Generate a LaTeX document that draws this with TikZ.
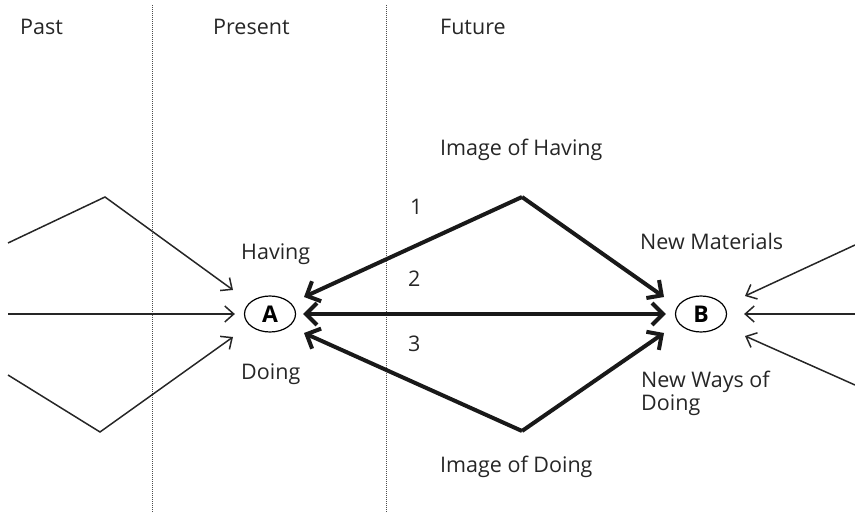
\documentclass[tikz,border=0pt]{standalone}
\usepackage{fontspec}
\setmainfont{Open Sans}
\usetikzlibrary{arrows.meta,shapes.geometric}
\begin{document}
\begin{tikzpicture}[x=1pt,y=-1pt,
  lbl/.style={anchor=base west,inner sep=0pt,font=\fontsize{21.5}{23}\selectfont,text=black!85},
  num/.style={anchor=base west,inner sep=0pt,font=\fontsize{21.5}{23}\selectfont,text=black!85},
  circ/.style={draw,ellipse,line width=1.2pt,minimum width=51pt,minimum height=36pt,inner sep=0pt,font=\fontsize{23}{23}\selectfont\bfseries},
  divider/.style={densely dotted,line width=1pt,black!70},
  thin/.style={line width=1.5pt,black!85,-{Straight Barb[length=9pt,width=16pt,line width=1.5pt]}},
  boldtip/.tip={Straight Barb[length=11pt,width=22pt,line width=4pt]},
  boldline/.style={line width=4pt,black!90,line join=miter}]
\useasboundingbox (0,0) rectangle (855,513);
% dividers
\coordinate (d1t) at (152,5); \coordinate (d1b) at (152,513);
\coordinate (d2t) at (386,5); \coordinate (d2b) at (386,513);
\draw[divider] (d1t) -- (d1b);
\draw[divider] (d2t) -- (d2b);
% headings
\node[lbl] (past) at (20,35) {Past};
\node[lbl] (present) at (213,35) {Present};
\node[lbl] (future) at (440,35) {Future};
% nodes
\node[circ] (A) at (270,314) {A};
\node[circ] (B) at (701,314) {B};
% labels
\node[lbl] (imgh) at (440,156) {Image of Having};
\node[lbl] (imgd) at (440,472) {Image of Doing};
\node[lbl] (hav) at (241,260) {Having};
\node[lbl] (doi) at (241,380) {Doing};
\node[lbl] (nm) at (640,250) {New Materials};
\node[lbl,align=left,anchor=north west] (nw) at (641,371) {New Ways of\\Doing};
\node[num] (n1) at (410,215) {1};
\node[num] (n2) at (408,287) {2};
\node[num] (n3) at (408,352) {3};
% bold arrows
\coordinate (ph) at (522,197);
\coordinate (pd) at (522,431);
\draw[boldline,-boldtip] (ph) -- (304,297);
\draw[boldline,-boldtip] (ph) -- (664,297);
\draw[boldline,-boldtip] (pd) -- (304,333);
\draw[boldline,-boldtip] (pd) -- (664,333);
\draw[boldline,boldtip-boldtip,shorten <=7pt,shorten >=9pt] (A) -- (B);
% left thin arrows
\coordinate (l1) at (8,243); \coordinate (l1p) at (105,197);
\coordinate (l2) at (8,314);
\coordinate (l3) at (8,375); \coordinate (l3p) at (100,432);
\draw[thin] (l1) -- (l1p) -- (233,290);
\draw[thin,shorten >=9pt] (l2) -- (A);
\draw[thin] (l3) -- (l3p) -- (233,337);
% right thin arrows
\coordinate (r1) at (855,245);
\coordinate (r2) at (855,314);
\coordinate (r3) at (855,385);
\draw[thin] (r1) -- (745,296);
\draw[thin,shorten >=17pt] (r2) -- (B);
\draw[thin] (r3) -- (745,336);
\end{tikzpicture}
\end{document}
